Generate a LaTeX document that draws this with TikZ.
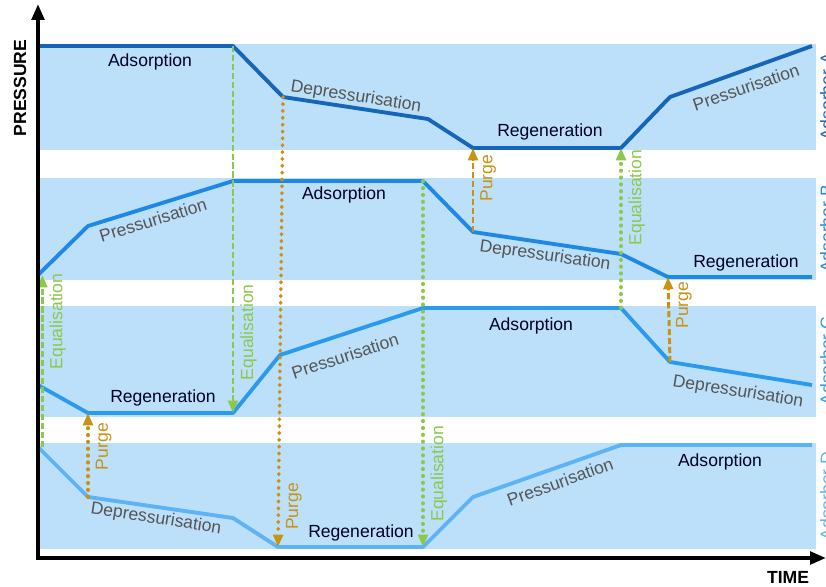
\documentclass[tikz,border=0pt]{standalone}
\usepackage{fontspec}
\setmainfont{Liberation Sans}
\usetikzlibrary{arrows.meta}
\definecolor{bandblue}{HTML}{BDE0FA}
\definecolor{adsA}{HTML}{1565B8}
\definecolor{adsB}{HTML}{1E88E5}
\definecolor{adsC}{HTML}{2A9AF0}
\definecolor{adsD}{HTML}{5CB3F5}
\definecolor{equalgreen}{HTML}{8CC84B}
\definecolor{purgegold}{HTML}{C89212}
\definecolor{stepgray}{HTML}{555555}
\tikzset{band/.style={fill=bandblue, draw=none},
  axisline/.style={line width=2.4pt, -{Triangle[length=9pt,width=7pt]}},
  axistitle/.style={font=\bfseries\fontsize{10}{12}\selectfont},
  cycleline/.style={line width=2.2pt, line join=round},
  phase/.style={text=black!85!blue, font=\fontsize{10}{12}\selectfont},
  slopedphase/.style={text=stepgray, font=\fontsize{10}{12}\selectfont},
  equalflow/.style={equalgreen, line width=1.7pt, -{Triangle[length=7pt,width=5.5pt]}},
  purgeflow/.style={purgegold, line width=1.7pt, -{Triangle[length=7pt,width=5.5pt]}},
  dashflow/.style={dash pattern=on 3.5pt off 1.6pt},
  dotflow/.style={line width=2.1pt, line cap=round, dash pattern=on 0.3pt off 3.6pt},
  flowlabel/.style={rotate=90, anchor=north, font=\fontsize{10}{12}\selectfont},
  adsorber/.style={rotate=90, anchor=north, font=\fontsize{10}{12}\selectfont},}

\begin{document}
\begin{tikzpicture}[x=0.02cm, y=-0.02cm]
\useasboundingbox (0,0) rectangle (826,586);
\fill[band] (38,44) rectangle (816,150);
\fill[band] (38,178) rectangle (816,280);
\fill[band] (38,306) rectangle (816,417);
\fill[band] (38,443) rectangle (816,549);

\coordinate (a0) at (38,46);   \coordinate (a1) at (233,46);
\coordinate (a2) at (283,97);  \coordinate (a3) at (428,119);
\coordinate (a4) at (473,148); \coordinate (a5) at (621,148);
\coordinate (a6) at (670,97);  \coordinate (a7) at (812,46);
\coordinate (b0) at (38,275);  \coordinate (b1) at (88,226);
\coordinate (b2) at (233,181); \coordinate (b3) at (423,181);
\coordinate (b4) at (473,232); \coordinate (b5) at (621,254);
\coordinate (b6) at (668,277); \coordinate (b7) at (812,277);
\coordinate (c0) at (38,385);  \coordinate (c1) at (88,413);
\coordinate (c2) at (233,413); \coordinate (c3) at (280,355);
\coordinate (c4) at (423,308); \coordinate (c5) at (621,308);
\coordinate (c6) at (670,362); \coordinate (c7) at (812,385);
\coordinate (d0) at (38,447);  \coordinate (d1) at (88,497);
\coordinate (d2) at (233,518); \coordinate (d3) at (278,547);
\coordinate (d4) at (423,547); \coordinate (d5) at (473,497);
\coordinate (d6) at (621,445); \coordinate (d7) at (812,445);

\draw[cycleline, adsA] (a0) -- (a1) -- (a2) -- (a3) -- (a4) -- (a5) -- (a6) -- (a7);
\draw[cycleline, adsB] (b0) -- (b1) -- (b2) -- (b3) -- (b4) -- (b5) -- (b6) -- (b7);
\draw[cycleline, adsC] (c0) -- (c1) -- (c2) -- (c3) -- (c4) -- (c5) -- (c6) -- (c7);
\draw[cycleline, adsD] (d0) -- (d1) -- (d2) -- (d3) -- (d4) -- (d5) -- (d6) -- (d7);

\draw[equalflow, dashflow] ([xshift=2.5pt]d0) -- node[flowlabel, pos=0.73] {Equalisation} ([xshift=2.5pt]b0);
\draw[equalflow, dashflow] (a1) -- node[flowlabel, pos=0.78] {Equalisation} (c2);
\draw[purgeflow, dotflow] (a2) -- node[flowlabel, pos=0.91] {Purge} (d3);
\draw[purgeflow, dotflow] (d1) -- node[flowlabel, pos=0.6] {Purge} (c1);
\draw[equalflow, dotflow] (b3) -- node[flowlabel, pos=0.8] {Equalisation} (d4);
\draw[purgeflow, dashflow] (b4) -- node[flowlabel, pos=0.64] {Purge} (a4);
\draw[equalflow, dotflow] (c5) -- node[flowlabel, pos=0.69] {Equalisation} (a5);
\draw[purgeflow, dashflow] (c6) -- node[flowlabel, pos=0.67] {Purge} (b6);

\node[phase] (adsA) at (150,62) {Adsorption};
\node[slopedphase, rotate=-9] (depA) at (356,97) {Depressurisation};
\node[phase] (regA) at (550,132) {Regeneration};
\node[slopedphase, rotate=19] (presA) at (746,87) {Pressurisation};
\node[slopedphase, rotate=17] (presB) at (153,220) {Pressurisation};
\node[phase] (adsB) at (344,195) {Adsorption};
\node[slopedphase, rotate=-8] (depB) at (545,256) {Depressurisation};
\node[phase] (regB) at (746,263) {Regeneration};
\node[phase] (regC) at (163,398) {Regeneration};
\node[slopedphase, rotate=18] (presC) at (345,356) {Pressurisation};
\node[phase] (adsC) at (531,326) {Adsorption};
\node[slopedphase, rotate=-9] (depC) at (738,392) {Depressurisation};
\node[slopedphase, rotate=-9] (depD) at (156,519) {Depressurisation};
\node[phase] (regD) at (361,533) {Regeneration};
\node[slopedphase, rotate=20] (presD) at (560,482) {Pressurisation};
\node[phase] (adsD) at (720,462) {Adsorption};

\node[adsorber, text=adsA] (labA) at (814,97) {Adsorber A};
\node[adsorber, text=adsB] (labB) at (814,229) {Adsorber B};
\node[adsorber, text=adsC] (labC) at (814,361) {Adsorber C};
\node[adsorber, text=adsD] (labD) at (814,496) {Adsorber D};

\coordinate (origin) at (38,558);
\coordinate (ytop) at (38,4);
\coordinate (xend) at (826,558);
\draw[axisline] (origin) -- (ytop);
\draw[axisline] ([xshift=-1.2pt]origin) -- (xend);
\node[axistitle, rotate=90] (pressure) at (20,88) {PRESSURE};
\node[axistitle] (time) at (788,577) {TIME};
\end{tikzpicture}
\end{document}
